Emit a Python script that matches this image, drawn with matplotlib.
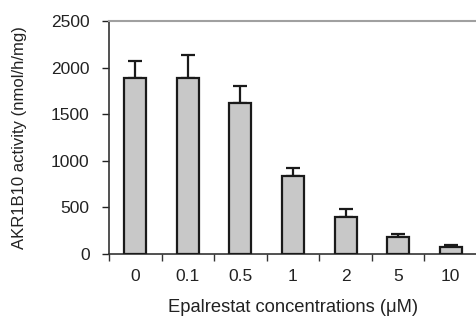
import matplotlib
matplotlib.use("Agg")
import matplotlib.pyplot as plt
import numpy as np

categories = ["0", "0.1", "0.5", "1", "2", "5", "10"]
activity = [1885, 1885, 1620, 835, 400, 178, 70]
err_upper = [185, 250, 180, 90, 85, 40, 28]

plt.rcParams['font.family'] = ['Liberation Sans', 'DejaVu Sans']

fig = plt.figure(figsize=(4.77, 3.24), dpi=100)
ax = fig.add_axes([0.2285, 0.216, 0.7715, 0.719])

x = np.arange(len(categories))
ax.bar(x, activity, width=0.42, color="#c8c8c8", edgecolor="#1a1a1a", linewidth=1.6, zorder=3)
ax.errorbar(x, activity, yerr=[np.zeros(len(activity)), err_upper], fmt="none",
            ecolor="#1a1a1a", elinewidth=1.6, capsize=5, capthick=1.6, zorder=2)

ax.set_xlim(-0.5, len(categories) - 0.5)
ax.set_ylim(0, 2500)
ax.set_yticks([0, 500, 1000, 1500, 2000, 2500])
ax.set_xticks(x)
ax.set_xticklabels(categories)
ax.set_xticks(np.arange(-0.5, len(categories) - 0.5, 1), minor=True)
ax.tick_params(axis="x", which="major", length=0, pad=11, labelsize=12.5, colors="#222222")
ax.tick_params(axis="x", which="minor", length=5, width=1, direction="out", color="#333333")
ax.tick_params(axis="y", length=5, width=1, direction="out", labelsize=12.5, colors="#222222", pad=9)

ax.spines["right"].set_visible(False)
ax.spines["top"].set_color("#a0a0a0")
ax.spines["top"].set_linewidth(1.5)
ax.spines["left"].set_color("#333333")
ax.spines["bottom"].set_color("#333333")
ax.spines["left"].set_linewidth(1.2)
ax.spines["bottom"].set_linewidth(1.2)

ax.set_xlabel("Epalrestat concentrations (μM)", fontsize=13.2, labelpad=10.5, color="#222222")
ax.set_ylabel("AKR1B10 activity (nmol/h/mg)", fontsize=12, labelpad=17, color="#222222")

fig.savefig("out.png", dpi=100)
